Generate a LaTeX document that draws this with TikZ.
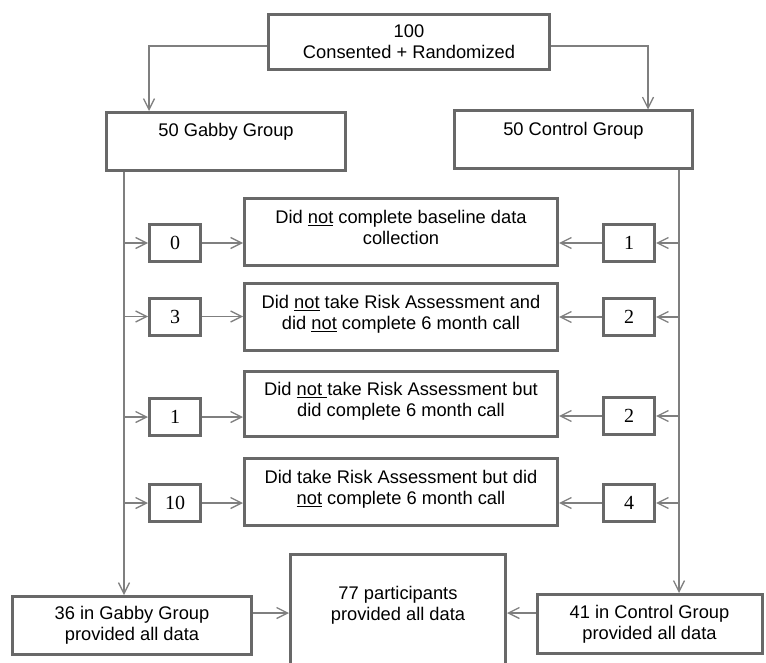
\documentclass[tikz,border=0pt]{standalone}
\usepackage{fontspec}
\newfontfamily\arialf{Liberation Sans}
\newfontfamily\timesf{Liberation Serif}
\usetikzlibrary{arrows.meta}
\definecolor{boxgray}{HTML}{686868}
\definecolor{linegray}{HTML}{7F7F7F}
\newcommand\myul[1]{\setbox0\hbox{#1}\rlap{\rule[-2.8pt]{\wd0}{1.3pt}}\box0\relax}
\begin{document}
\begin{tikzpicture}[x=1pt,y=-1pt,
  box/.style={draw=boxgray, line width=3pt, inner sep=0pt, align=center,
    font=\arialf\fontsize{18.3}{21}\selectfont},
  numbox/.style={draw=boxgray, line width=3pt, inner sep=0pt,
    minimum width=51pt, minimum height=37pt,
    font=\timesf\fontsize{20}{22}\selectfont},
  midbox/.style={box, minimum width=313pt, minimum height=67pt,
    text height=34.4pt, text depth=9.5pt},
  conn/.style={draw=linegray, line width=1.3pt},
  arr/.style={conn, -{Straight Barb[length=11pt,width=11pt,line width=1.3pt]}}]
\useasboundingbox (0,0) rectangle (766,663);
\clip (0,0) rectangle (766,663);
% main boxes
\node[box, minimum width=281pt, minimum height=55pt] (top) at (409,42) {100\\Consented + Randomized};
\node[box, minimum width=239pt, text height=24.5pt, text depth=33.5pt] (gabby) at (226,141.5) {50 Gabby Group};
\node[box, minimum width=238pt, text height=24.5pt, text depth=33.5pt] (control) at (573.5,140) {50 Control Group};
\node[midbox] (m1) at (401,232) {Did \myul{not} complete baseline data\\collection};
\node[midbox] (m2) at (401,317) {Did \myul{not} take Risk Assessment and\\did \myul{not} complete 6 month call};
\node[midbox, minimum height=65pt] (m3) at (401,404) {Did \myul{not\ }take Risk Assessment but\\did complete 6 month call};
\node[midbox] (m4) at (401,492) {Did take Risk Assessment but did\\\myul{not} complete 6 month call};
% number boxes
\node[numbox] (l1) at (175,243) {0};
\node[numbox] (l2) at (175,316.5) {3};
\node[numbox] (l3) at (175,417) {1};
\node[numbox] (l4) at (175,503) {10};
\node[numbox] (r1) at (629,243) {1};
\node[numbox] (r2) at (629,317) {2};
\node[numbox] (r3) at (629,416) {2};
\node[numbox] (r4) at (629,503) {4};
% final boxes
\node[box, minimum width=239pt, minimum height=58pt] (fl) at (132,625.5) {36 in Gabby Group\\provided all data};
\node[box, minimum width=225pt, minimum height=59pt] (fr) at (649.5,624) {41 in Control Group\\provided all data};
\node[box, minimum width=215pt, anchor=north, text height=56pt, text depth=80pt] (fc) at (398,552.5)
  {\begin{tabular}{@{}c@{}}77 participants\\provided all data\end{tabular}};
% connectors
\draw[arr] ([yshift=-4pt]top.west) -| ([xshift=-77pt]gabby.north);
\draw[arr] ([yshift=-4pt]top.east) -| ([xshift=74.5pt]control.north);
\coordinate (gl) at ([xshift=-102pt]gabby.south);
\coordinate (cl) at ([xshift=105.5pt]control.south);
\draw[arr] (gl) -- (gl |- fl.north);
\draw[arr] (cl) -- (cl |- fr.north);
\foreach \i in {1,2,3,4}{
  \draw[arr] (gl |- l\i.west) -- (l\i.west);
  \draw[arr] (l\i.east) -- (l\i.east -| m\i.west);
  \draw[arr] (cl |- r\i.east) -- (r\i.east);
  \draw[arr] (r\i.west) -- (r\i.west -| m\i.east);
}
\draw[arr] ([yshift=12.5pt]fl.east) -- ([yshift=12.5pt]fl.east -| fc.west);
\draw[arr] ([yshift=11pt]fr.west) -- ([yshift=11pt]fr.west -| fc.east);
\end{tikzpicture}
\end{document}
